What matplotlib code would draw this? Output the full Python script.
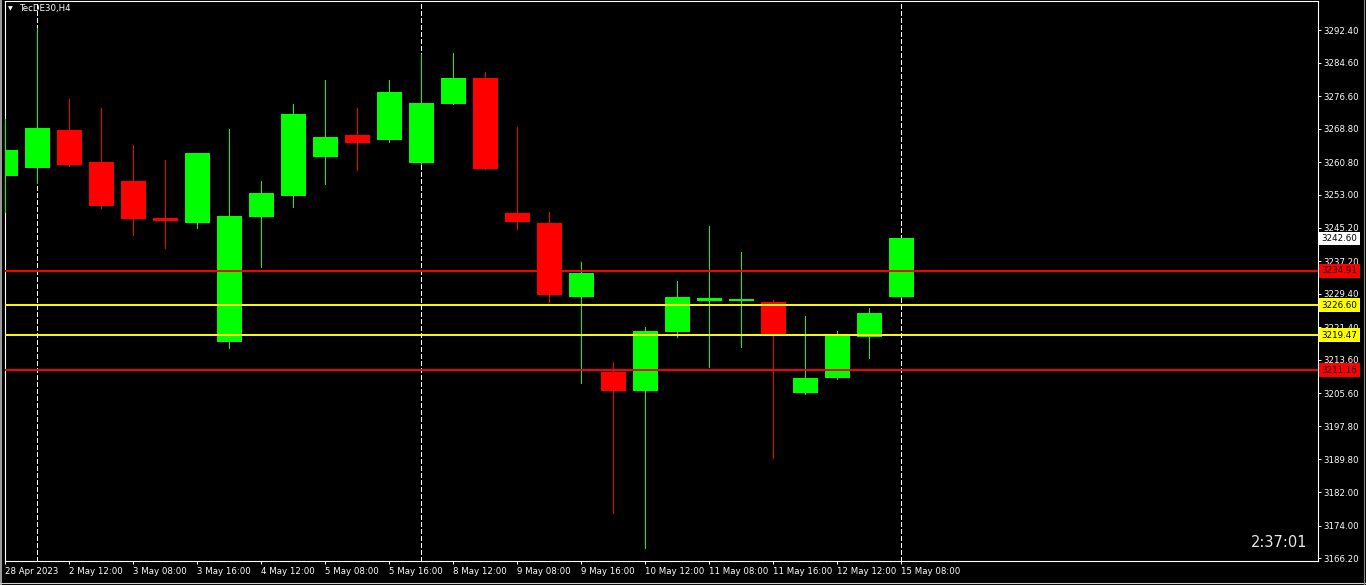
import matplotlib
matplotlib.use("Agg")
import matplotlib.pyplot as plt
from matplotlib.patches import Rectangle
from matplotlib.lines import Line2D

# TecDE30 H4 candles
opens = [3257.6, 3259.5, 3268.5, 3260.9, 3256.3, 3247.5, 3246.4, 3217.9, 3247.8, 3252.8,
         3262.1, 3267.3, 3266.2, 3260.7, 3274.8, 3280.9, 3248.7, 3246.3, 3228.6, 3210.7,
         3206.2, 3220.3, 3227.7, 3227.7, 3227.4, 3205.7, 3209.3, 3219.1, 3228.6]
highs = [3271.1, 3292.9, 3275.9, 3273.8, 3264.9, 3261.3, 3263.1, 3268.8, 3256.3, 3274.7,
         3280.5, 3273.8, 3280.5, 3286.6, 3286.9, 3282.4, 3269.2, 3248.9, 3237.0, 3213.1,
         3221.5, 3232.4, 3245.6, 3239.4, 3227.9, 3224.1, 3220.5, 3226.0, 3242.7]
lows = [3249.0, 3255.9, 3260.0, 3249.9, 3243.4, 3240.4, 3245.2, 3216.5, 3235.9, 3250.2,
        3255.7, 3259.0, 3265.7, 3260.3, 3274.7, 3259.1, 3244.9, 3227.4, 3208.1, 3176.9,
        3168.7, 3219.1, 3211.9, 3216.7, 3190.2, 3205.5, 3209.1, 3214.0, 3228.5]
closes = [3263.7, 3269.0, 3260.2, 3250.4, 3247.3, 3246.8, 3263.0, 3248.0, 3253.5, 3272.3,
          3266.8, 3265.5, 3277.6, 3275.0, 3280.9, 3259.3, 3246.5, 3229.1, 3234.4, 3206.2,
          3220.5, 3228.6, 3228.4, 3228.1, 3219.8, 3209.3, 3219.5, 3224.8, 3242.6]

time_ticks = [0, 2, 4, 6, 8, 10, 12, 14, 16, 18, 20, 22, 24, 26, 28]
time_labels = ["28 Apr 2023", "2 May 12:00", "3 May 08:00", "3 May 16:00", "4 May 12:00",
               "5 May 08:00", "5 May 16:00", "8 May 12:00", "9 May 08:00", "9 May 16:00",
               "10 May 12:00", "11 May 08:00", "11 May 16:00", "12 May 12:00", "15 May 08:00"]
separators = [1, 13, 28]

price_ticks = [3292.40, 3284.60, 3276.60, 3268.80, 3260.80, 3253.00, 3245.20, 3237.20,
               3229.40, 3221.40, 3213.60, 3205.60, 3197.80, 3189.80, 3182.00, 3174.00, 3166.20]

levels = [3234.91, 3226.60, 3219.47, 3211.16]
level_colors = ["#ff0000", "#ffff00", "#ffff00", "#ff0000"]
bid = 3242.60

bull = "#00ff00"
bear = "#ff0000"

W, H = 1366, 585
fig = plt.figure(figsize=(W / 100, H / 100), dpi=100, facecolor="black")
ax = fig.add_axes([4.5 / W, 24 / H, 1313 / W, 560 / H], facecolor="black")

# candles
for i in range(len(opens)):
    o, h, l, c = opens[i], highs[i], lows[i], closes[i]
    col = bull if c >= o else bear
    ax.vlines(i, l, h, color=col, lw=0.5, zorder=3, antialiased=False)
    body = max(abs(c - o), 0.25)
    ax.bar(i, body, width=0.78, bottom=min(o, c), color=col, linewidth=0, zorder=4)

# period separators
for s in separators:
    ax.axvline(s, color="white", lw=0.5, dashes=(6, 3.5), zorder=2, antialiased=False)

# horizontal levels
for lv, lc in zip(levels, level_colors):
    ax.axhline(lv, color=lc, lw=1.4, zorder=5)

ax.set_xlim(-0.025, 41.006)
ax.set_ylim(3165.55, 3299.33)

for sp in ax.spines.values():
    sp.set_color("white")
    sp.set_linewidth(0.8)

ax.set_xticks(time_ticks)
ax.set_xticklabels(time_labels, ha="left")
ax.set_yticks(price_ticks)
ax.set_yticklabels(["%.2f" % p for p in price_ticks])
ax.yaxis.tick_right()
ax.tick_params(axis="both", colors="white", labelsize=6.2, length=2.5, width=0.7, direction="out")
ax.tick_params(axis="x", pad=2)
ax.tick_params(axis="y", pad=2)

# price tags on the right scale
tr = ax.get_yaxis_transform()
ax.text(1.0032, bid, "%.2f" % bid, transform=tr, fontsize=6.3, color="black", va="center",
        ha="left", clip_on=False, zorder=10,
        bbox=dict(boxstyle="square,pad=0.28", facecolor="white", edgecolor="none"))
for lv, lc in zip(levels, level_colors):
    ax.text(1.0032, lv, "%.2f" % lv, transform=tr, fontsize=6.3, color="black", va="center",
            ha="left", clip_on=False, zorder=10,
            bbox=dict(boxstyle="square,pad=0.28", facecolor=lc, edgecolor="none"))

# symbol caption and bar timer
fig.text(8 / W, 1 - 8.5 / H, "\u25bc", fontsize=4.5, color="white", va="center", ha="left")
fig.text(20 / W, 1 - 8.5 / H, "TecDE30,H4", fontsize=6.2, color="white", va="center", ha="left")
ax.text(0.992, 0.033, "2:37:01", transform=ax.transAxes, fontsize=10.5, color="#e8e8e8",
        ha="right", va="center")

# window frame bits
fig.patches.append(Rectangle((0, 0), 2 / W, 1, transform=fig.transFigure, facecolor="#9a9a9a",
                             edgecolor="none", zorder=0))
fig.lines.append(Line2D([0, 1], [2 / H, 2 / H], transform=fig.transFigure, color="#d0d0d0", lw=0.8))
fig.lines.append(Line2D([1363.5 / W, 1363.5 / W], [0, 1], transform=fig.transFigure, color="#808080", lw=0.8))

fig.savefig("out.png", dpi=100, facecolor="black")
